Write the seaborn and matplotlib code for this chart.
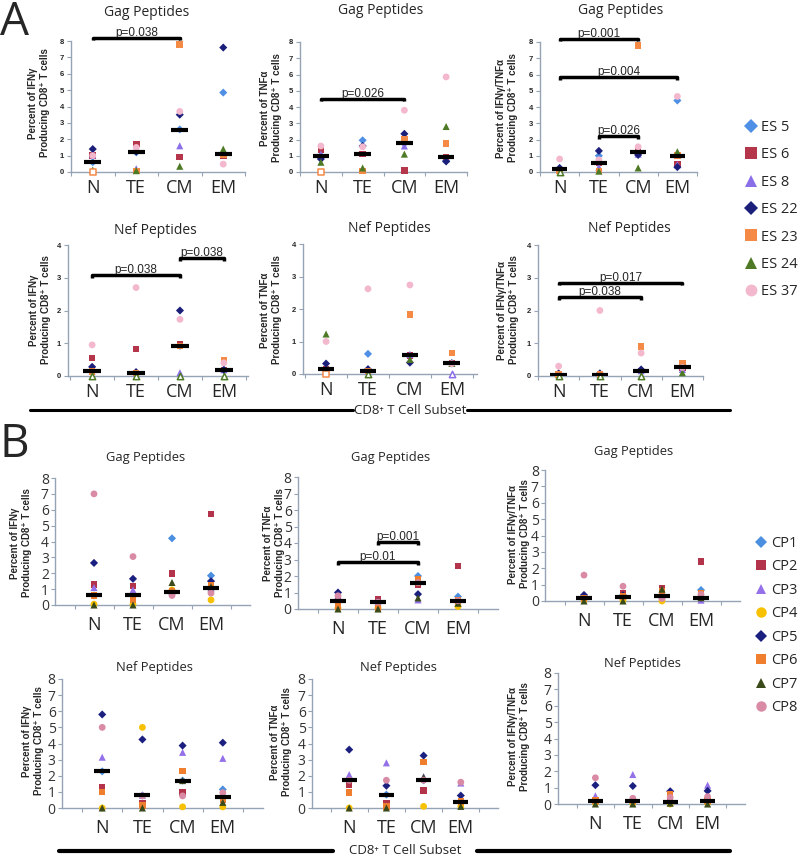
import numpy as np
import pandas as pd
import seaborn as sns
import matplotlib.pyplot as plt
from matplotlib.lines import Line2D

sns.set_theme(style="ticks")
plt.rcParams['font.family'] = ['Open Sans', 'DejaVu Sans']

SUBSETS = ['N', 'TE', 'CM', 'EM']

# panel A donors (elite suppressors)
ES_DONORS = ['ES 5', 'ES 6', 'ES 8', 'ES 22', 'ES 23', 'ES 24', 'ES 37']
ES_COLORS = ['#4f8fe6', '#b5364b', '#8b6fe8', '#1b1f7a', '#f58a46', '#4e7a26', '#f3b8cd']
ES_MARKERS = ['D', 's', '^', 'D', 's', '^', 'o']

# panel B donors (chronic progressors)
CP_DONORS = ['CP1', 'CP2', 'CP3', 'CP4', 'CP5', 'CP6', 'CP7', 'CP8']
CP_COLORS = ['#4a8fe0', '#b3334b', '#9471e8', '#f7c100', '#1b1f80', '#ef7f2e', '#3a4a1a', '#d98ba5']
CP_MARKERS = ['D', 's', '^', 'o', 'D', 's', '^', 'o']

# rows = donors, columns = N, TE, CM, EM
A_GAG_IFNG = [[0.6, 1.2, 2.6, 4.85], [1.0, 1.7, 0.92, 1.0], [1.05, 0.2, 1.6, 1.1],
              [1.4, 1.25, 3.5, 7.6], [0.0, 0.05, 7.8, 1.05], [0.12, 0.08, 0.35, 1.4],
              [1.0, 1.5, 3.7, 0.48]]
A_GAG_IFNG_MED = [0.6, 1.2, 2.55, 1.1]
A_GAG_TNF = [[1.0, 1.95, 1.75, 0.7], [1.4, 1.1, 0.1, 0.9], [1.1, 0.1, 1.6, 0.8],
             [0.8, 1.6, 2.35, 0.65], [0.0, 0.05, 2.0, 1.75], [0.6, 0.25, 1.1, 2.8],
             [1.6, 1.55, 3.8, 5.85]]
A_GAG_TNF_MED = [1.0, 1.1, 1.8, 0.9]
A_GAG_DUAL = [[0.2, 1.0, 1.25, 4.4], [0.1, 0.55, 1.4, 0.5], [0.15, 0.3, 1.1, 0.45],
              [0.25, 1.3, 1.05, 0.3], [0.05, 0.05, 7.8, 1.0], [0.0, 0.05, 0.25, 1.25],
              [0.8, 0.75, 1.55, 4.65]]
A_GAG_DUAL_MED = [0.2, 0.55, 1.25, 1.0]
A_NEF_IFNG = [[0.14, 0.09, 0.92, 0.19], [0.55, 0.82, 0.98, 0.19], [0.14, 0.09, 0.1, 0.19],
              [0.28, 0.12, 2.0, 0.19], [0.14, 0.09, 0.92, 0.47], [0.0, 0.0, 0.0, 0.0],
              [0.95, 2.7, 1.73, 0.4]]
A_NEF_IFNG_MED = [0.14, 0.09, 0.92, 0.19]
A_NEF_TNF = [[0.14, 0.62, 0.57, 0.33], [0.14, 0.09, 0.57, 0.33], [0.14, 0.09, 0.6, 0.0],
             [0.32, 0.15, 0.35, 0.33], [0.0, 0.09, 1.83, 0.65], [1.23, 0.0, 0.45, 0.33],
             [1.0, 2.62, 2.74, 0.32]]
A_NEF_TNF_MED = [0.14, 0.09, 0.57, 0.33]
A_NEF_DUAL = [[0.04, 0.04, 0.16, 0.26], [0.04, 0.04, 0.16, 0.26], [0.04, 0.04, 0.16, 0.2],
              [0.08, 0.08, 0.2, 0.26], [0.04, 0.04, 0.9, 0.4], [0.0, 0.0, 0.0, 0.1],
              [0.3, 2.0, 0.7, 0.26]]
A_NEF_DUAL_MED = [0.04, 0.04, 0.16, 0.26]

B_GAG_IFNG = [[0.6, 0.6, 4.2, 1.85], [1.3, 1.2, 1.97, 5.73], [1.1, 0.95, 0.85, 1.05],
              [0.05, 0.05, 0.95, 0.32], [2.65, 1.65, 0.85, 1.5], [0.6, 0.3, 0.85, 1.25],
              [0.0, 0.0, 1.42, 1.15], [7.0, 3.05, 0.6, 0.75]]
B_GAG_IFNG_MED = [0.6, 0.6, 0.85, 1.05]
B_GAG_TNF = [[0.4, 0.42, 2.0, 0.75], [0.5, 0.6, 1.45, 2.6], [0.85, 0.42, 0.55, 0.5],
             [0.05, 0.05, 1.6, 0.15], [1.0, 0.42, 0.9, 0.5], [0.15, 0.05, 1.8, 0.5],
             [0.0, 0.0, 0.67, 0.35], [0.8, 0.42, 1.6, 0.5]]
B_GAG_TNF_MED = [0.5, 0.42, 1.6, 0.5]
B_GAG_DUAL = [[0.17, 0.27, 0.33, 0.67], [0.17, 0.45, 0.75, 2.4], [0.17, 0.27, 0.33, 0.05],
              [0.05, 0.05, 0.0, 0.2], [0.37, 0.35, 0.33, 0.2], [0.17, 0.27, 0.6, 0.45],
              [0.0, 0.0, 0.72, 0.2], [1.58, 0.9, 0.15, 0.4]]
B_GAG_DUAL_MED = [0.17, 0.27, 0.33, 0.2]
B_NEF_IFNG = [[2.27, 0.78, 1.7, 1.15], [1.3, 0.3, 0.95, 0.6], [3.15, 0.78, 3.45, 3.08],
              [0.0, 5.0, 0.07, 0.07], [5.8, 4.25, 3.87, 4.05], [1.0, 0.15, 2.3, 0.5],
              [0.0, 0.0, 1.7, 0.35], [5.0, 0.75, 0.75, 0.95]]
B_NEF_IFNG_MED = [2.27, 0.78, 1.7, 0.7]
B_NEF_TNF = [[1.72, 0.83, 1.72, 0.35], [1.45, 0.27, 1.07, 0.35], [2.07, 2.8, 1.95, 1.55],
             [0.0, 0.05, 0.1, 0.1], [3.62, 1.38, 3.25, 0.77], [0.97, 0.1, 2.85, 0.4],
             [0.0, 0.0, 1.9, 0.1], [1.72, 1.72, 1.72, 1.6]]
B_NEF_TNF_MED = [1.72, 0.83, 1.72, 0.35]
B_NEF_DUAL = [[0.2, 0.17, 0.15, 0.2], [0.2, 0.17, 0.3, 0.2], [0.5, 1.8, 0.15, 1.15],
              [0.05, 0.05, 0.0, 0.05], [1.15, 1.1, 0.78, 0.8], [0.2, 0.17, 0.62, 0.2],
              [0.0, 0.0, 0.05, 0.0], [1.6, 0.35, 0.4, 0.45]]
B_NEF_DUAL_MED = [0.2, 0.17, 0.15, 0.2]

AXIS_COLOR = '#94a3b5'
MARKER_AREA = {'D': 17, 's': 22, '^': 26, 'o': 24}
W, H = 800, 856

fig = plt.figure(figsize=(W / 100, H / 100), dpi=100)


def fx(x):
    return x / W


def fy(y):
    return 1 - y / H


def to_long(rows, donors):
    recs = []
    for d, vals in zip(donors, rows):
        for i, v in enumerate(vals):
            recs.append({'donor': d, 'pos': i, 'value': v})
    return pd.DataFrame(recs)


def draw_panel(rect, rows, medians, panel, ymax, xlim, title, title_xy, ylab, ylab_xy,
               brackets=()):
    x0, y0, x1, y1 = rect
    ax = fig.add_axes([fx(x0), fy(y1), (x1 - x0) / W, (y1 - y0) / H])
    if panel == 'A':
        donors, colors, markers = ES_DONORS, ES_COLORS, ES_MARKERS
    else:
        donors, colors, markers = CP_DONORS, CP_COLORS, CP_MARKERS
    pal = dict(zip(donors, colors))
    mk = dict(zip(donors, markers))
    sz = {d: MARKER_AREA[m] for d, m in mk.items()}
    df = to_long(rows, donors)
    # panel A shows zero values as open symbols
    if panel == 'A':
        solid = df[df['value'] > 0]
        hollow = df[df['value'] == 0]
    else:
        solid, hollow = df, df.iloc[0:0]
    sns.scatterplot(data=solid, x='pos', y='value', hue='donor', style='donor', size='donor',
                    hue_order=donors, style_order=donors, size_order=donors,
                    palette=pal, markers=mk, sizes=sz,
                    linewidth=0, legend=False, ax=ax, clip_on=False, zorder=3)
    for _, r in hollow.iterrows():
        ax.scatter(r['pos'], r['value'], marker=mk[r['donor']], s=sz[r['donor']] * 0.8,
                   facecolors='white', edgecolors=pal[r['donor']], linewidths=1.1,
                   clip_on=False, zorder=4)
    pos = np.arange(len(SUBSETS))
    ax.hlines(medians, pos - 0.2, pos + 0.2, color='black', lw=3, zorder=5)

    ax.set(xlabel='', ylabel='')
    ax.set_xlim(*xlim)
    ax.set_ylim(0, ymax)
    ax.set_xticks(pos)
    ax.set_xticks(np.arange(-0.5, 4, 1.0), minor=True)
    ax.set_yticks(range(ymax + 1))
    sns.despine(ax=ax)
    for s in ['left', 'bottom']:
        ax.spines[s].set_color(AXIS_COLOR)
        ax.spines[s].set_linewidth(1.0)
    ax.tick_params(axis='x', which='major', length=0, pad=5 if panel == 'A' else 8)
    ax.tick_params(axis='x', which='minor', length=3, color=AXIS_COLOR, width=0.8)
    ax.tick_params(axis='y', length=3, color=AXIS_COLOR, width=0.8,
                   pad=2 if panel == 'A' else 1.5)
    ax.set_xticklabels(SUBSETS, fontsize=13)
    if panel == 'A':
        ax.set_yticklabels([str(v) for v in range(ymax + 1)], fontsize=5.5,
                           fontweight='bold', family=['Liberation Sans', 'DejaVu Sans'])
    else:
        ax.set_yticklabels([str(v) for v in range(ymax + 1)], fontsize=10, color='#333333')

    for a, b, yb, lab in brackets:
        d = ymax * 0.02
        ax.plot([a, a, b, b], [yb - d, yb, yb, yb - d], color='black', lw=2.5,
                clip_on=False, zorder=6, solid_capstyle='butt')
        ax.annotate(lab, xy=((a + b) / 2, yb), xytext=(0, 1.5), textcoords='offset points',
                    ha='center', va='baseline', fontsize=8.5,
                    family=['Liberation Sans', 'DejaVu Sans'], annotation_clip=False)

    fig.text(fx(title_xy[0]), fy(title_xy[1]), title, ha='center', va='center',
             fontsize=10 if panel == 'A' else 9.3)
    fig.text(fx(ylab_xy[0]), fy(ylab_xy[1]), ylab, rotation=90, ha='center', va='center',
             fontsize=7, fontweight='bold', linespacing=1.25,
             family=['Liberation Sans', 'DejaVu Sans'])
    return ax


YL_IFN = 'Percent of IFNγ\nProducing CD8⁺ T cells'
YL_TNF = 'Percent of TNFα\nProducing CD8⁺ T cells'
YL_DUAL = 'Percent of IFNγ/TNFα\nProducing CD8⁺ T cells'

# panel A
draw_panel((71, 41, 245, 172), A_GAG_IFNG, A_GAG_IFNG_MED, 'A', 8, (-0.5, 3.5),
           'Gag Peptides', (147, 12), YL_IFN, (39, 103), [(0, 2, 8.2, 'p=0.038')])
draw_panel((300, 42, 467, 172), A_GAG_TNF, A_GAG_TNF_MED, 'A', 8, (-0.5, 3.5),
           'Gag Peptides', (381, 11), YL_TNF, (271, 108), [(0, 2, 4.5, 'p=0.026')])
draw_panel((540, 42, 697, 172), A_GAG_DUAL, A_GAG_DUAL_MED, 'A', 8, (-0.45, 3.3),
           'Gag Peptides', (621, 11), YL_DUAL, (507, 108),
           [(0, 2, 8.2, 'p=0.001'), (0, 3, 5.85, 'p=0.004'), (1, 2, 2.2, 'p=0.026')])
draw_panel((68, 245, 248, 376), A_NEF_IFNG, A_NEF_IFNG_MED, 'A', 4, (-0.55, 3.55),
           'Nef Peptides', (155, 230), YL_IFN, (40, 310),
           [(0, 2, 3.08, 'p=0.038'), (2, 3, 3.6, 'p=0.038')])
draw_panel((303, 244, 477, 374), A_NEF_TNF, A_NEF_TNF_MED, 'A', 4, (-0.55, 3.6),
           'Nef Peptides', (389, 229), YL_TNF, (271, 310))
draw_panel((538, 245, 703, 376), A_NEF_DUAL, A_NEF_DUAL_MED, 'A', 4, (-0.5, 3.25),
           'Nef Peptides', (629, 229), YL_DUAL, (508, 310),
           [(0, 3, 2.85, 'p=0.017'), (0, 2, 2.4, 'p=0.038')])

# panel B
draw_panel((55, 478, 250, 605), B_GAG_IFNG, B_GAG_IFNG_MED, 'B', 8, (-1, 4),
           'Gag Peptides', (146, 458), YL_IFN, (21, 543))
draw_panel((298, 477, 498, 609), B_GAG_TNF, B_GAG_TNF_MED, 'B', 8, (-1, 4),
           'Gag Peptides', (391, 457), YL_TNF, (274, 543),
           [(1, 2, 4.04, 'p=0.001'), (0, 2, 2.83, 'p=0.01')])
draw_panel((545, 470, 740, 601), B_GAG_DUAL, B_GAG_DUAL_MED, 'B', 8, (-1, 4),
           'Gag Peptides', (634, 452), YL_DUAL, (519, 534))
draw_panel((62, 679, 263, 808), B_NEF_IFNG, B_NEF_IFNG_MED, 'B', 8, (-1, 4),
           'Nef Peptides', (154, 668), YL_IFN, (33, 741))
draw_panel((312, 679, 498, 808), B_NEF_TNF, B_NEF_TNF_MED, 'B', 8, (-1, 4),
           'Nef Peptides', (398, 668), YL_TNF, (281, 742))
draw_panel((558, 673, 745, 804), B_NEF_DUAL, B_NEF_DUAL_MED, 'B', 8, (-1, 4),
           'Nef Peptides', (642, 663), YL_DUAL, (519, 737))

# legends
def legend_handles(colors, markers, size):
    return [Line2D([], [], marker=m, color=c, linestyle='', markersize=size * (0.85 if m == 'D' else 1.0),
                   markeredgewidth=0) for c, m in zip(colors, markers)]


fig.legend(legend_handles(ES_COLORS, ES_MARKERS, 8.5), ES_DONORS, loc='upper left',
           bbox_to_anchor=(fx(744), fy(120)), frameon=False, fontsize=10.5,
           handletextpad=0.15, handlelength=1.0, labelspacing=0.85,
           borderpad=0, borderaxespad=0)
fig.legend(legend_handles(CP_COLORS, CP_MARKERS, 7.5), CP_DONORS, loc='upper left',
           bbox_to_anchor=(fx(754), fy(536)), frameon=False, fontsize=10.5,
           handletextpad=0.15, handlelength=1.0, labelspacing=0.58,
           borderpad=0, borderaxespad=0)

# panel letters
fig.text(fx(0), fy(35), 'A', fontsize=33, va='baseline', ha='left')
fig.text(fx(0), fy(457), 'B', fontsize=33, va='baseline', ha='left')

# x-axis captions with rules
for yline, segs, lw in [(410, [(30, 353), (467, 730)], 2.2), (851, [(59, 333), (477, 730)], 3)]:
    for a, b in segs:
        fig.add_artist(Line2D([fx(a), fx(b)], [fy(yline), fy(yline)], color='black', lw=lw))
    fig.text(fx((segs[0][1] + segs[1][0]) / 2), fy(yline), 'CD8⁺ T Cell Subset',
             ha='center', va='center', fontsize=9.5)

fig.savefig('out.png', dpi=100)
